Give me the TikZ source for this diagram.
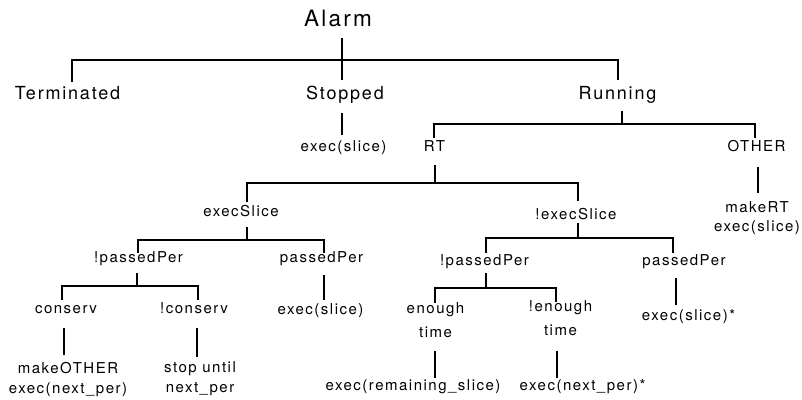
\documentclass[tikz,border=0pt]{standalone}
\usepackage{fontspec}
\newfontfamily\diagfont{TeX Gyre Heros}[LetterSpace=10]
\begin{document}
\begin{tikzpicture}[x=1pt,y=-1pt,line width=1.8pt,
  lbl/.style={inner sep=0pt,anchor=base,align=center,font=\diagfont\fontsize{15}{20}\selectfont},
  lblmid/.style={lbl,font=\diagfont\fontsize{15}{19}\selectfont},
  lbltall/.style={lbl,font=\diagfont\fontsize{15}{23.5}\selectfont},
  lvltop/.style={lbl,font=\diagfont\fontsize{22.5}{26}\selectfont},
  lvlone/.style={lbl,font=\diagfont\fontsize{18}{22}\selectfont}]
\useasboundingbox (0,0) rectangle (802,399);

% ---------- texts (anchor = baseline of the last line) ----------
\node[lvltop] (alarm) at (338,26.5) {Alarm};
\node[lvlone] (term) at (67.5,99) {Terminated};
\node[lvlone] (stop) at (345,99) {Stopped};
\node[lvlone] (run) at (617.5,99) {Running};
\node[lbl] (stopx) at (343.5,151) {exec(slice)};
\node[lbl] (rt) at (434.5,151) {RT};
\node[lbl] (other) at (756.5,151) {OTHER};
\node[lblmid] (otherx) at (757,231) {makeRT\\exec(slice)};
\node[lbl] (es) at (241,216) {execSlice};
\node[lbl] (nes) at (576,219) {!execSlice};
\node[lbl] (npL) at (138.5,262) {!passedPer};
\node[lbl] (pL) at (321.5,262) {passedPer};
\node[lbl] (cons) at (66,313) {conserv};
\node[lbl] (ncons) at (194,313) {!conserv};
\node[lbl] (pLx) at (320.5,314) {exec(slice)};
\node[lbl] (consx) at (68,393) {makeOTHER\\exec(next\_per)};
\node[lbl] (nconsx) at (200,392.5) {stop until\\next\_per};
\node[lbl] (npR) at (484.5,265) {!passedPer};
\node[lbl] (pR) at (684,265) {passedPer};
\node[lbltall] (en) at (435.5,337) {enough\\time};
\node[lbltall] (nen) at (560.5,335) {!enough\\time};
\node[lbl] (pRx) at (688.5,320) {exec(slice)*};
\node[lbl] (enx) at (413,390) {exec(remaining\_slice)};
\node[lbl] (nenx) at (582.5,390) {exec(next\_per)*};

% ---------- connector end points ----------
\coordinate (alarm-s) at (342,38);   \coordinate (bar1) at (342,60);
\coordinate (term-n) at (72,82);     \coordinate (stop-n) at (342,80);
\coordinate (run-n) at (618,80);
\coordinate (stop-s) at (342,113);   \coordinate (stopx-n) at (342,135);
\coordinate (run-s) at (622,111);    \coordinate (bar2) at (622,124);
\coordinate (rt-n) at (434,138);     \coordinate (other-n) at (755,138);
\coordinate (other-s) at (758,167);  \coordinate (otherx-n) at (758,193);
\coordinate (rt-s) at (435,165);     \coordinate (bar3) at (435,183);
\coordinate (es-n) at (247,202);     \coordinate (nes-n) at (578,201);
\coordinate (es-s) at (247,227);     \coordinate (bar4) at (247,240);
\coordinate (npL-n) at (138,253);    \coordinate (pL-n) at (324,253);
\coordinate (npL-s) at (137,273);    \coordinate (bar5) at (137,286);
\coordinate (cons-n) at (62,300);    \coordinate (ncons-n) at (198,300);
\coordinate (pL-s) at (324,275);     \coordinate (pLx-n) at (324,300);
\coordinate (cons-s) at (64,328);    \coordinate (consx-n) at (64,355);
\coordinate (ncons-s) at (197,328);  \coordinate (nconsx-n) at (197,357);
\coordinate (nes-s) at (578,223);    \coordinate (bar6) at (578,238);
\coordinate (npR-n) at (486,253);    \coordinate (pR-n) at (673,253);
\coordinate (npR-s) at (486,273);    \coordinate (bar7) at (486,288);
\coordinate (en-n) at (435,303);     \coordinate (nen-n) at (556,302);
\coordinate (pR-s) at (676,278);     \coordinate (pRx-n) at (676,305);
\coordinate (en-s) at (435,351);     \coordinate (enx-n) at (435,378);
\coordinate (nen-s) at (557,351);    \coordinate (nenx-n) at (557,378);

% ---------- connectors ----------
\draw (alarm-s) -- (bar1);
\draw (term-n) -- (term-n |- bar1) -- (run-n |- bar1) -- (run-n);
\draw (bar1) -- (stop-n);
\draw (stop-s) -- (stopx-n);
\draw (run-s) -- (bar2);
\draw (rt-n) -- (rt-n |- bar2) -- (other-n |- bar2) -- (other-n);
\draw (other-s) -- (otherx-n);
\draw (rt-s) -- (bar3);
\draw (es-n) -- (es-n |- bar3) -- (nes-n |- bar3) -- (nes-n);
\draw (es-s) -- (bar4);
\draw (npL-n) -- (npL-n |- bar4) -- (pL-n |- bar4) -- (pL-n);
\draw (npL-s) -- (bar5);
\draw (cons-n) -- (cons-n |- bar5) -- (ncons-n |- bar5) -- (ncons-n);
\draw (pL-s) -- (pLx-n);
\draw (cons-s) -- (consx-n);
\draw (ncons-s) -- (nconsx-n);
\draw (nes-s) -- (bar6);
\draw (npR-n) -- (npR-n |- bar6) -- (pR-n |- bar6) -- (pR-n);
\draw (npR-s) -- (bar7);
\draw (en-n) -- (en-n |- bar7) -- (nen-n |- bar7) -- (nen-n);
\draw (pR-s) -- (pRx-n);
\draw (en-s) -- (enx-n);
\draw (nen-s) -- (nenx-n);
\end{tikzpicture}
\end{document}
